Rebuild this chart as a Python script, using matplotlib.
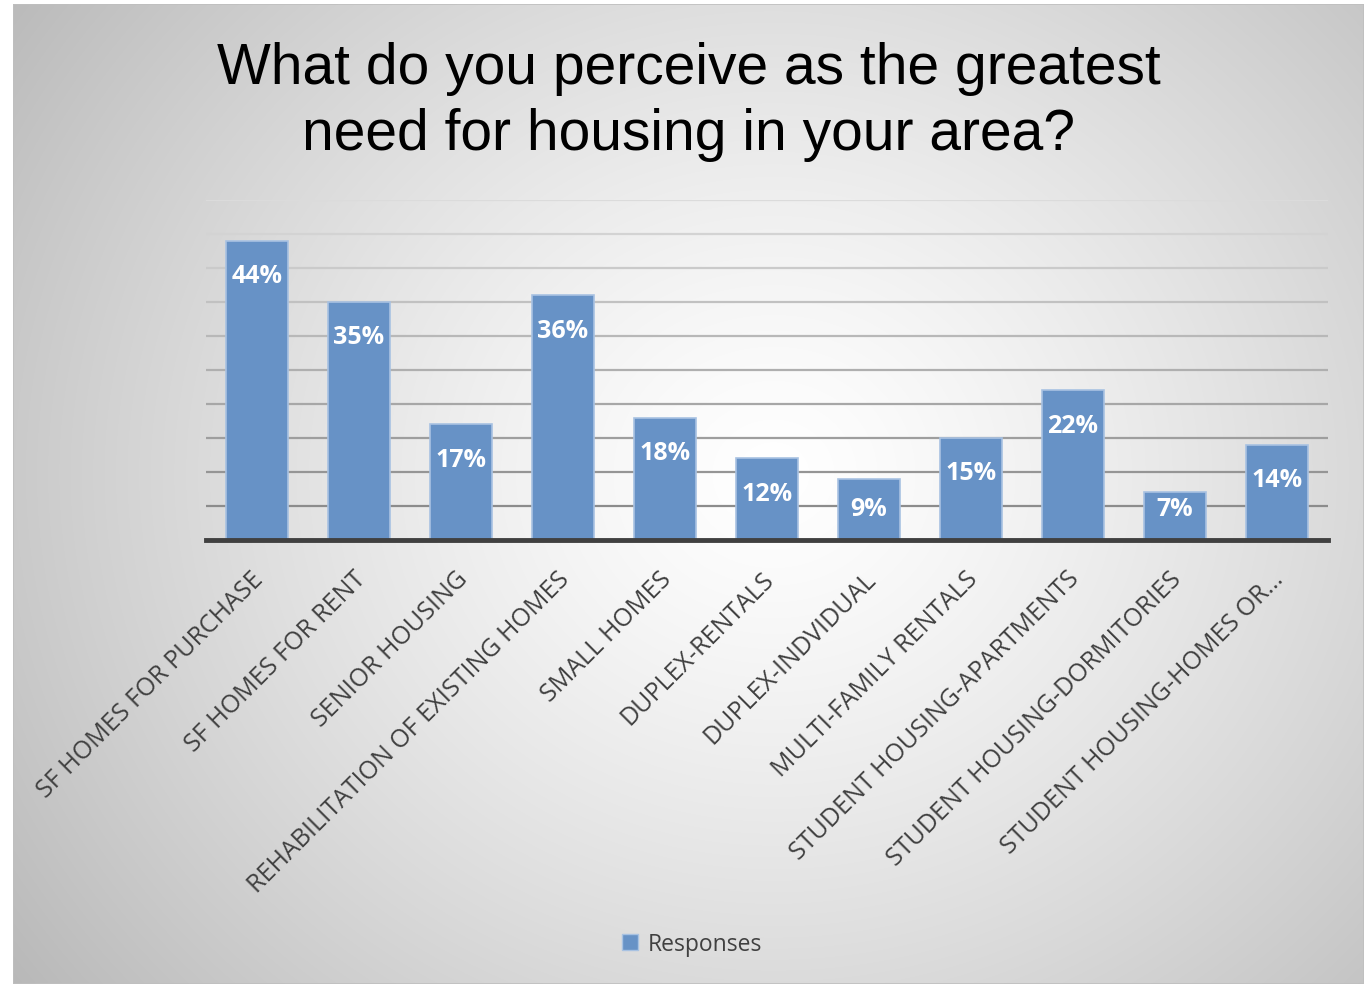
import numpy as np
import matplotlib
matplotlib.use("Agg")
import matplotlib.pyplot as plt
import matplotlib.transforms as mtransforms
from matplotlib.patches import Rectangle

categories = [
    "SF HOMES FOR PURCHASE",
    "SF HOMES FOR RENT",
    "SENIOR HOUSING",
    "REHABILITATION OF EXISTING HOMES",
    "SMALL HOMES",
    "DUPLEX-RENTALS",
    "DUPLEX-INDVIDUAL",
    "MULTI-FAMILY RENTALS",
    "STUDENT HOUSING-APARTMENTS",
    "STUDENT HOUSING-DORMITORIES",
    "STUDENT HOUSING-HOMES OR\u2026",
]
responses = [44, 35, 17, 36, 18, 12, 9, 15, 22, 7, 14]
series_name = "Responses"
title = "What do you perceive as the greatest\nneed for housing in your area?"

W, H = 1372, 987
fig = plt.figure(figsize=(W / 100, H / 100), dpi=100)
fig.patch.set_facecolor("white")

# Chart area with a soft radial gradient
bg = fig.add_axes([13 / W, 1 - 985 / H, (1364 - 13) / W, (985 - 5) / H])
bg.set_axis_off()
yy, xx = np.mgrid[0:980, 0:1351]
cx, cy = 760, 470
r = np.hypot(xx - cx, (yy - cy) / 0.9)
val = 1 - 0.23 * np.clip(r / 820, 0, 1.2) ** 1.3
img = np.dstack([val, val, val])
bg.imshow(img, aspect="auto", extent=[0, 1, 0, 1], origin="upper")
bg.set_xlim(0, 1)
bg.set_ylim(0, 1)
bg.add_patch(Rectangle((0, 0), 1, 1, transform=bg.transAxes, fill=False,
                       edgecolor="#bfbfbf", linewidth=1.2))

ax_h_px = 340
ymax = 50
ax = fig.add_axes([206 / W, 1 - 541 / H, 1122 / W, ax_h_px / H])
ax.set_facecolor("none")
n = len(categories)
x = np.arange(n)
ax.set_xlim(-0.5, n - 0.5)
ax.set_ylim(0, ymax)

# Horizontal gridlines, darker toward the baseline
for v in range(5, ymax + 1, 5):
    t = (v - 5) / 45
    g = 0.55 + t * (0.86 - 0.55)
    ax.axhline(v, color=(g, g, g), linewidth=1.6, zorder=1)

ax.bar(x, responses, width=0.6, color="#6792c6", edgecolor="#a8c2e2",
       linewidth=1.2, zorder=2)
ax.axhline(0, color="#404040", linewidth=3.5, zorder=3, clip_on=False)

# Value labels sit just inside the bar top, kept inside short bars
px_per_unit = ax_h_px / ymax
for xi, v in zip(x, responses):
    y_lab = max(v - 35 / px_per_unit, 31 / px_per_unit)
    ax.text(xi, y_lab, f"{v}%", ha="center", va="center", color="white",
            fontsize=18, fontweight="bold", family="Open Sans", zorder=4)

for s in ax.spines.values():
    s.set_visible(False)
ax.set_yticks([])
ax.set_xticks(x)
ax.set_xticklabels(categories, rotation=45, ha="right", va="center",
                   rotation_mode="anchor", fontsize=18, color="#404040",
                   family=["Open Sans", "DejaVu Sans"])
ax.tick_params(axis="x", length=0, pad=25)
shift = mtransforms.ScaledTranslation(3 / 100, 0, fig.dpi_scale_trans)
for lab in ax.get_xticklabels():
    lab.set_transform(lab.get_transform() + shift)

fig.text(689 / W, 1 - 102 / H, title, ha="center", va="center", fontsize=41,
         family="Liberation Sans", color="black", linespacing=1.3)

handle = Rectangle((0, 0), 1, 1, facecolor="#6792c6", edgecolor="#a8c2e2")
fig.legend([handle], [series_name], loc="center", bbox_to_anchor=(692 / W, 1 - 945 / H),
           frameon=False, prop={"family": "Open Sans", "size": 16.5},
           labelcolor="#404040", handlelength=0.7, handleheight=0.7,
           handletextpad=0.4)

fig.savefig("out.png", dpi=100)
